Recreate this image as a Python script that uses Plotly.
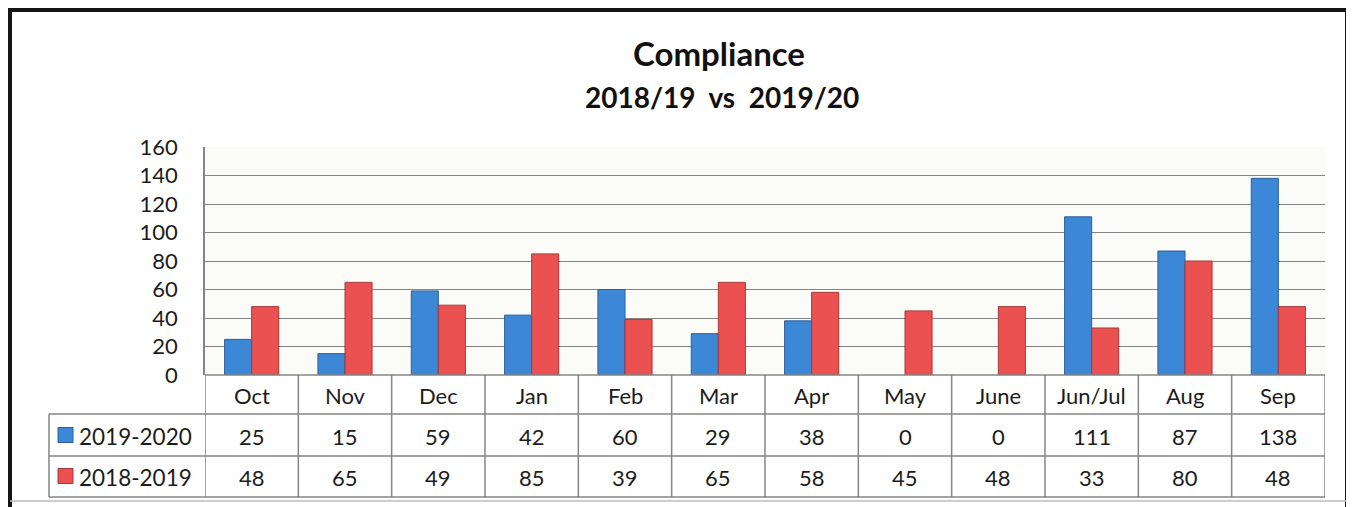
import plotly.graph_objects as go

months = ["Oct", "Nov", "Dec", "Jan", "Feb", "Mar", "Apr", "May", "June", "Jun/Jul", "Aug", "Sep"]
series_names = ["2019-2020", "2018-2019"]
vals_2019_2020 = [25, 15, 59, 42, 60, 29, 38, 0, 0, 111, 87, 138]
vals_2018_2019 = [48, 65, 49, 85, 39, 65, 58, 45, 48, 33, 80, 48]
y_ticks = [0, 20, 40, 60, 80, 100, 120, 140, 160]

BLUE = "#3C87D6"
RED = "#EC5151"
BLUE_EDGE = "#2B5E9C"
RED_EDGE = "#A83838"
FONT = "Lato, Carlito, 'Noto Sans', sans-serif"
TXT = "#1c1c1c"
GRID = "#858585"

# page geometry (pixels, in browser page coords); the page body has an 8px margin
OFF = 8
WIDTH, HEIGHT = 1354 - OFF, 507 - OFF
L, R, T, B = 205, 1325, 147, 375
PW, PH = R - L, B - T


def xp(px):
    return (px - L) / PW


def yp(py):
    return (B - py) / PH


def edge_widths(vals):
    return [0 if v == 0 else 1 for v in vals]


fig = go.Figure()
fig.add_trace(go.Bar(x=list(range(len(months))), y=vals_2019_2020, name=series_names[0],
                     marker=dict(color=BLUE, line=dict(color=BLUE_EDGE, width=edge_widths(vals_2019_2020)))))
fig.add_trace(go.Bar(x=list(range(len(months))), y=vals_2018_2019, name=series_names[1],
                     marker=dict(color=RED, line=dict(color=RED_EDGE, width=edge_widths(vals_2018_2019)))))

shapes = []
annotations = []

tbl_left = 49
line_style = dict(color=GRID, width=1.5)
shapes.append(dict(type="line", xref="paper", yref="paper", x0=0, x1=1, y0=yp(375), y1=yp(375), line=line_style))
for yy in (414, 456, 497):
    shapes.append(dict(type="line", xref="paper", yref="paper", x0=xp(tbl_left), x1=1,
                       y0=yp(yy), y1=yp(yy), line=line_style))
shapes.append(dict(type="line", xref="paper", yref="paper", x0=xp(tbl_left), x1=xp(tbl_left),
                   y0=yp(414), y1=yp(497), line=line_style))
for i in range(len(months) + 1):
    shapes.append(dict(type="line", xref="x", yref="paper", x0=i - 0.5, x1=i - 0.5,
                       y0=yp(375), y1=yp(497), line=line_style))

for i, m in enumerate(months):
    annotations.append(dict(x=i, y=yp(395), xref="x", yref="paper", text=m, showarrow=False,
                            xanchor="center", yanchor="middle", font=dict(size=22, color=TXT, family=FONT)))
for i, v in enumerate(vals_2019_2020):
    annotations.append(dict(x=i, y=yp(436), xref="x", yref="paper", text=str(v), showarrow=False,
                            xanchor="center", yanchor="middle", font=dict(size=22, color=TXT, family=FONT)))
for i, v in enumerate(vals_2018_2019):
    annotations.append(dict(x=i, y=yp(477), xref="x", yref="paper", text=str(v), showarrow=False,
                            xanchor="center", yanchor="middle", font=dict(size=22, color=TXT, family=FONT)))

for (name, col, edge, cy) in ((series_names[0], BLUE, BLUE_EDGE, 435), (series_names[1], RED, RED_EDGE, 476)):
    shapes.append(dict(type="rect", xref="paper", yref="paper", x0=xp(58), x1=xp(73),
                       y0=yp(cy - 7.5), y1=yp(cy + 7.5), fillcolor=col, line=dict(color=edge, width=1)))
    annotations.append(dict(x=xp(77), y=yp(cy + 1), xref="paper", yref="paper", text=name, showarrow=False,
                            xanchor="left", yanchor="middle", font=dict(size=22.5, color=TXT, family=FONT)))

annotations.append(dict(x=xp(719), y=yp(53), xref="paper", yref="paper", text="<b>Compliance</b>",
                        showarrow=False, xanchor="center", yanchor="middle",
                        font=dict(size=33, color="#111", family=FONT)))
annotations.append(dict(x=xp(722), y=yp(97), xref="paper", yref="paper", text="<b>2018/19  vs  2019/20</b>",
                        showarrow=False, xanchor="center", yanchor="middle",
                        font=dict(size=28, color="#111", family=FONT)))

frame = dict(color="#151515", width=4)
shapes.append(dict(type="line", xref="paper", yref="paper", x0=xp(8), x1=xp(1348), y0=yp(10), y1=yp(10), line=frame))
shapes.append(dict(type="line", xref="paper", yref="paper", x0=xp(10), x1=xp(10), y0=yp(10), y1=yp(507), line=frame))
shapes.append(dict(type="line", xref="paper", yref="paper", x0=xp(1347), x1=xp(1347), y0=yp(10), y1=yp(507), line=frame))
shapes.append(dict(type="line", xref="paper", yref="paper", x0=xp(10), x1=xp(1347), y0=yp(501), y1=yp(501),
                   line=dict(color="#bbbbbb", width=1.5)))

fig.update_layout(
    width=WIDTH, height=HEIGHT,
    margin=dict(l=L - OFF, r=1354 - R, t=T - OFF, b=507 - B, pad=0),
    paper_bgcolor="white",
    plot_bgcolor="#FBFBF8",
    barmode="group", bargap=0.42, bargroupgap=0,
    showlegend=False,
    shapes=shapes,
    annotations=annotations,
    font=dict(family=FONT, color=TXT),
)
fig.update_xaxes(range=[-0.5, len(months) - 0.5], showticklabels=False, showgrid=False,
                 zeroline=False, showline=False, tickvals=[])
fig.update_yaxes(range=[0, 160], tickvals=y_ticks, showgrid=True, gridcolor=GRID, gridwidth=1.3,
                 zeroline=False, showline=True, linecolor=GRID, linewidth=1.5,
                 tickfont=dict(size=22, color=TXT, family=FONT), ticks="", ticklabelstandoff=21)

fig.write_html("out.html")
